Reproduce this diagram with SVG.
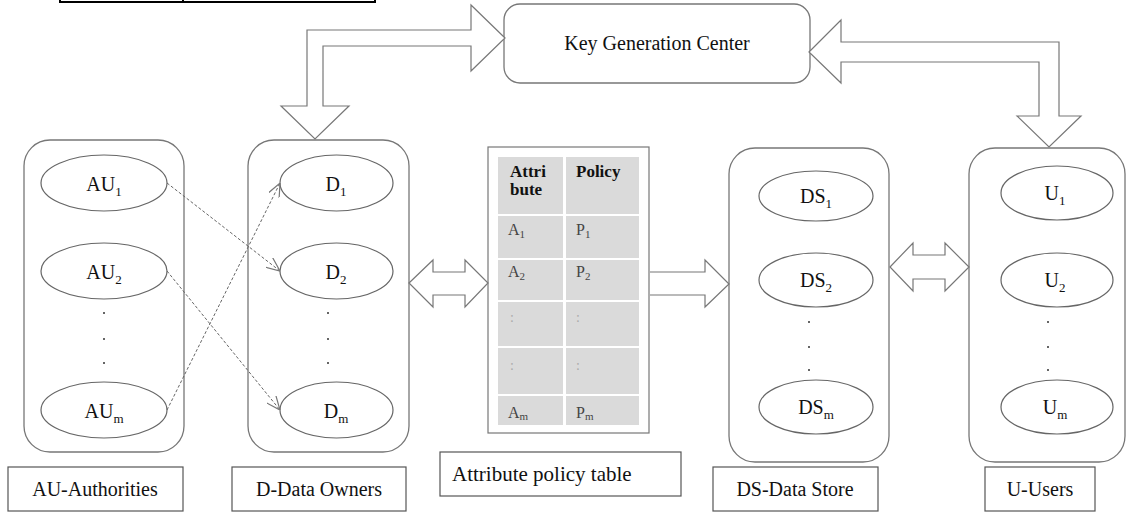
<svg xmlns="http://www.w3.org/2000/svg" width="1126" height="513" viewBox="0 0 1126 513">
<style>
  .cont{fill:#fff;stroke:#777;stroke-width:1.3}
  .ell{fill:#fff;stroke:#666;stroke-width:1.2}
  .lbl{fill:#fff;stroke:#555;stroke-width:1.2}
  .t{font-family:"Liberation Serif","Times New Roman",serif;font-size:20px;fill:#111}
  .sub{font-size:13px}
  .dot{fill:#333}
  .big{fill:#fff;stroke:#777;stroke-width:1.2}
  .dash{fill:none;stroke:#666;stroke-width:1;stroke-dasharray:3,2}
  .cell{fill:#dadada}
  .tb{font-family:"Liberation Serif","Times New Roman",serif;font-size:17px;font-weight:bold;fill:#111}
  .tc{font-family:"Liberation Serif","Times New Roman",serif;font-size:16px;fill:#444}
  .tcs{font-size:11px}
  .colon{font-family:"Liberation Serif","Times New Roman",serif;font-size:14px;fill:#aaa}
</style>
<defs>
  <marker id="open" viewBox="0 0 14 12" refX="14" refY="6" markerWidth="14" markerHeight="12" markerUnits="userSpaceOnUse" orient="auto">
    <path d="M0,0 L14,6 L0,12" fill="none" stroke="#777" stroke-width="1.2"/>
  </marker>
</defs>

<!-- cut-off fragment at top-left -->
<g id="fragment" fill="none" stroke="#000" stroke-width="2">
  <path d="M60,-5 V2 H375 V-5"/>
  <path d="M183,-5 V2"/>
</g>

<!-- Key Generation Center -->
<g id="kgc">
  <rect x="504" y="4" width="306" height="79" rx="16" class="cont"/>
  <text x="657" y="50" text-anchor="middle" class="t">Key Generation Center</text>
</g>

<!-- AU container -->
<g id="authorities">
  <rect x="24" y="140" width="160" height="312" rx="26" class="cont"/>
  <ellipse cx="104" cy="183" rx="63" ry="28" class="ell"/>
  <text x="104" y="191" text-anchor="middle" class="t">AU<tspan class="sub" dy="5">1</tspan></text>
  <ellipse cx="104" cy="271" rx="63" ry="28" class="ell"/>
  <text x="104" y="279" text-anchor="middle" class="t">AU<tspan class="sub" dy="5">2</tspan></text>
  <circle cx="104" cy="313" r="1" class="dot"/>
  <circle cx="104" cy="339" r="1" class="dot"/>
  <circle cx="104" cy="363" r="1" class="dot"/>
  <ellipse cx="104" cy="410" rx="63" ry="28" class="ell"/>
  <text x="104" y="418" text-anchor="middle" class="t">AU<tspan class="sub" dy="5">m</tspan></text>
</g>

<!-- D container -->
<g id="owners">
  <rect x="248" y="140" width="161" height="312" rx="26" class="cont"/>
  <ellipse cx="336.5" cy="183" rx="56.5" ry="28" class="ell"/>
  <text x="336" y="191" text-anchor="middle" class="t">D<tspan class="sub" dy="5">1</tspan></text>
  <ellipse cx="336.5" cy="271" rx="56.5" ry="28" class="ell"/>
  <text x="336" y="279" text-anchor="middle" class="t">D<tspan class="sub" dy="5">2</tspan></text>
  <circle cx="328" cy="313" r="1" class="dot"/>
  <circle cx="328" cy="339" r="1" class="dot"/>
  <circle cx="328" cy="363" r="1" class="dot"/>
  <ellipse cx="336.5" cy="410" rx="56.5" ry="28" class="ell"/>
  <text x="336" y="418" text-anchor="middle" class="t">D<tspan class="sub" dy="5">m</tspan></text>
</g>

<!-- Attribute policy table -->
<g id="table">
  <rect x="488" y="147" width="161" height="286" fill="#fff" stroke="#777" stroke-width="1.2"/>
  <rect x="498" y="157" width="65" height="57" class="cell"/>
  <rect x="566" y="157" width="73" height="57" class="cell"/>
  <rect x="498" y="216" width="65" height="42" class="cell"/>
  <rect x="566" y="216" width="73" height="42" class="cell"/>
  <rect x="498" y="260" width="65" height="40" class="cell"/>
  <rect x="566" y="260" width="73" height="40" class="cell"/>
  <rect x="498" y="302" width="65" height="44" class="cell"/>
  <rect x="566" y="302" width="73" height="44" class="cell"/>
  <rect x="498" y="348" width="65" height="46" class="cell"/>
  <rect x="566" y="348" width="73" height="46" class="cell"/>
  <rect x="498" y="396" width="65" height="29" class="cell"/>
  <rect x="566" y="396" width="73" height="29" class="cell"/>
  <text x="510" y="177" class="tb">Attri</text>
  <text x="510" y="195" class="tb">bute</text>
  <text x="576" y="177" class="tb">Policy</text>
  <text x="508" y="235" class="tc">A<tspan class="tcs" dy="3">1</tspan></text>
  <text x="576" y="235" class="tc">P<tspan class="tcs" dy="3">1</tspan></text>
  <text x="508" y="277" class="tc">A<tspan class="tcs" dy="3">2</tspan></text>
  <text x="576" y="277" class="tc">P<tspan class="tcs" dy="3">2</tspan></text>
  <text x="510" y="322" class="colon">:</text>
  <text x="576" y="322" class="colon">:</text>
  <text x="510" y="370" class="colon">:</text>
  <text x="576" y="370" class="colon">:</text>
  <text x="508" y="418" class="tc">A<tspan class="tcs" dy="2">m</tspan></text>
  <text x="576" y="418" class="tc">P<tspan class="tcs" dy="2">m</tspan></text>
</g>

<!-- DS container -->
<g id="datastore">
  <rect x="729" y="148" width="160" height="314" rx="26" class="cont"/>
  <ellipse cx="816" cy="196" rx="57" ry="25" class="ell"/>
  <text x="816" y="203" text-anchor="middle" class="t">DS<tspan class="sub" dy="5">1</tspan></text>
  <ellipse cx="816" cy="280" rx="57" ry="27" class="ell"/>
  <text x="816" y="287" text-anchor="middle" class="t">DS<tspan class="sub" dy="5">2</tspan></text>
  <circle cx="809" cy="322" r="1" class="dot"/>
  <circle cx="809" cy="347" r="1" class="dot"/>
  <circle cx="809" cy="370" r="1" class="dot"/>
  <ellipse cx="816" cy="407" rx="57" ry="27" class="ell"/>
  <text x="816" y="414" text-anchor="middle" class="t">DS<tspan class="sub" dy="5">m</tspan></text>
</g>

<!-- U container -->
<g id="users">
  <rect x="969" y="148" width="156" height="314" rx="26" class="cont"/>
  <ellipse cx="1057" cy="193" rx="56" ry="27" class="ell"/>
  <text x="1055" y="200" text-anchor="middle" class="t">U<tspan class="sub" dy="5">1</tspan></text>
  <ellipse cx="1057" cy="280" rx="56" ry="27" class="ell"/>
  <text x="1055" y="287" text-anchor="middle" class="t">U<tspan class="sub" dy="5">2</tspan></text>
  <circle cx="1048" cy="322" r="1" class="dot"/>
  <circle cx="1048" cy="347" r="1" class="dot"/>
  <circle cx="1048" cy="370" r="1" class="dot"/>
  <ellipse cx="1057" cy="407" rx="56" ry="27" class="ell"/>
  <text x="1055" y="414" text-anchor="middle" class="t">U<tspan class="sub" dy="5">m</tspan></text>
</g>

<!-- Labels -->
<g id="label-au">
  <rect x="8" y="467" width="175" height="44" class="lbl"/>
  <text x="95" y="496" text-anchor="middle" class="t">AU-Authorities</text>
</g>
<g id="label-d">
  <rect x="232" y="467" width="174" height="44" class="lbl"/>
  <text x="319" y="496" text-anchor="middle" class="t">D-Data Owners</text>
</g>
<g id="label-table">
  <rect x="440" y="452" width="241" height="44" class="lbl"/>
  <text x="452" y="481" class="t" style="font-size:21px">Attribute policy table</text>
</g>
<g id="label-ds">
  <rect x="713" y="467" width="165" height="44" class="lbl"/>
  <text x="795" y="496" text-anchor="middle" class="t">DS-Data Store</text>
</g>
<g id="label-u">
  <rect x="985" y="467" width="110" height="44" class="lbl"/>
  <text x="1040" y="496" text-anchor="middle" class="t">U-Users</text>
</g>

<!-- Connectors -->
<g id="connectors">
  <path class="big" d="M505,38 L471,5 L471,30 L307,30 L307,106 L281,106 L315,139 L349,106 L323,106 L323,46 L471,46 L471,71 Z"/>
  <path class="big" d="M809,52 L841,20 L841,42 L1059,42 L1059,116 L1081,116 L1049,147 L1017,116 L1039,116 L1039,62 L841,62 L841,83 Z"/>
  <path class="big" d="M409,283 L433,260 L433,272 L465,272 L465,260 L488,283 L465,307 L465,295 L433,295 L433,307 Z"/>
  <path class="big" d="M650,272 L705,272 L705,260 L729,284 L705,307 L705,295 L650,295"/>
  <path class="big" d="M890,267 L913,243 L913,255 L945,255 L945,243 L969,267 L945,291 L945,279 L913,279 L913,291 Z"/>
  <line class="dash" x1="167" y1="183" x2="280" y2="271" marker-end="url(#open)"/>
  <line class="dash" x1="167" y1="271" x2="280" y2="410" marker-end="url(#open)"/>
  <line class="dash" x1="167" y1="410" x2="280" y2="183" marker-end="url(#open)"/>
</g>
</svg>
